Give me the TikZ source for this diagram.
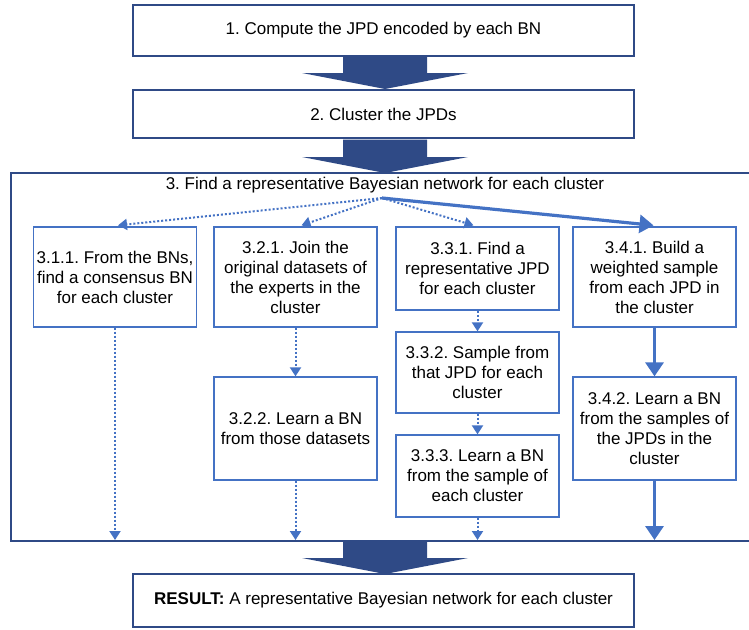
\documentclass[tikz,border=0pt]{standalone}
\usepackage{fontspec}
\setmainfont{Liberation Sans}
\frenchspacing
\usetikzlibrary{arrows.meta,calc}
\definecolor{navy}{HTML}{2F4A86}
\definecolor{lblue}{HTML}{4472C4}
\tikzset{
  txt/.style={font=\fontsize{17pt}{20pt}\selectfont, align=center, inner sep=0pt},
  bigbox/.style={txt, draw=navy, line width=2.6pt, minimum width=501pt, fill=white},
  subbox/.style={txt, draw=lblue, line width=1.3pt, minimum width=163pt},
  bigarrow/.style={fill=navy, draw=none},
  dotarrow/.style={draw=lblue, line width=2pt, dash pattern=on 2pt off 2pt, -{Triangle[width=11pt,length=9pt]}},
  thickarrow/.style={draw=lblue, line width=3.2pt, -{Triangle[width=18pt,length=14pt]}},
}
\begin{document}
\begin{tikzpicture}[x=1pt,y=-1pt]
\useasboundingbox (0,0) rectangle (749,629);
% container
\draw[navy, line width=2.6pt] (755,173) -- (11,173) -- (11,541) -- (755,541);
% big boxes
\node[bigbox, minimum height=51pt] (b1) at (383.5,30.5) {1. Compute the JPD encoded by each BN};
\node[bigbox, minimum height=48pt] (b2) at (383.5,114) {2. Cluster the JPDs};
\node[bigbox, minimum height=53pt] (res) at (383.5,600.5) {\textbf{RESULT:} A representative Bayesian network for each cluster};
% big arrows
\fill[bigarrow] (343,56.5) -- (427,56.5) -- (427,73) -- (468,73) -- (385,89) -- (302,73) -- (343,73) -- cycle;
\fill[bigarrow] (343,139.5) -- (427,139.5) -- (427,157) -- (468,157) -- (385,173) -- (302,157) -- (343,157) -- cycle;
\fill[bigarrow] (343,542) -- (427,542) -- (427,558) -- (468,558) -- (385,574) -- (302,558) -- (343,558) -- cycle;
% title
\node[txt] (title) at (385,185) {3. Find a representative Bayesian network for each cluster};
\coordinate (src) at (382,198);
% sub boxes
\node[subbox, minimum height=100pt] (s311) at (115,277) {3.1.1. From the BNs,\\find a consensus BN\\for each cluster};
\node[subbox, minimum height=100pt] (s321) at (295.5,277) {3.2.1. Join the\\original datasets of\\the experts in the\\cluster};
\node[subbox, minimum height=103pt] (s322) at (295.5,428.5) {3.2.2. Learn a BN\\from those datasets};
\node[subbox, minimum height=83pt] (s331) at (477.5,268.5) {3.3.1. Find a\\representative JPD\\for each cluster};
\node[subbox, minimum height=81pt] (s332) at (477.5,372.5) {3.3.2. Sample from\\that JPD for each\\cluster};
\node[subbox, minimum height=82pt] (s333) at (477.5,476) {3.3.3. Learn a BN\\from the sample of\\each cluster};
\node[subbox, minimum height=100pt] (s341) at (654.5,277) {3.4.1. Build a\\weighted sample\\from each JPD in\\the cluster};
\node[subbox, minimum height=103pt] (s342) at (654.5,428.5) {3.4.2. Learn a BN\\from the samples of\\the JPDs in the\\cluster};
% end coordinates on container bottom
\coordinate (e1) at (115,540);
\coordinate (e2) at (295.5,540);
\coordinate (e3) at (477.5,540);
\coordinate (e4) at (654.5,540);
% fan-out arrows
\draw[dotarrow] (src) -- ([xshift=3pt,yshift=1pt]s311.north);
\draw[dotarrow] (src) -- ([xshift=6pt,yshift=1pt]s321.north);
\draw[dotarrow] (src) -- ([xshift=-4pt,yshift=1pt]s331.north);
\draw[thickarrow] (src) -- ([xshift=-1pt,yshift=1pt]s341.north);
% vertical arrows
\draw[dotarrow] (s311.south) -- (e1);
\draw[dotarrow] (s321.south) -- (s322.north);
\draw[dotarrow] (s322.south) -- (e2);
\draw[dotarrow] (s331.south) -- (s332.north);
\draw[dotarrow] (s332.south) -- (s333.north);
\draw[dotarrow] (s333.south) -- (e3);
\draw[thickarrow] (s341.south) -- (s342.north);
\draw[thickarrow] (s342.south) -- (e4);
\end{tikzpicture}
\end{document}
